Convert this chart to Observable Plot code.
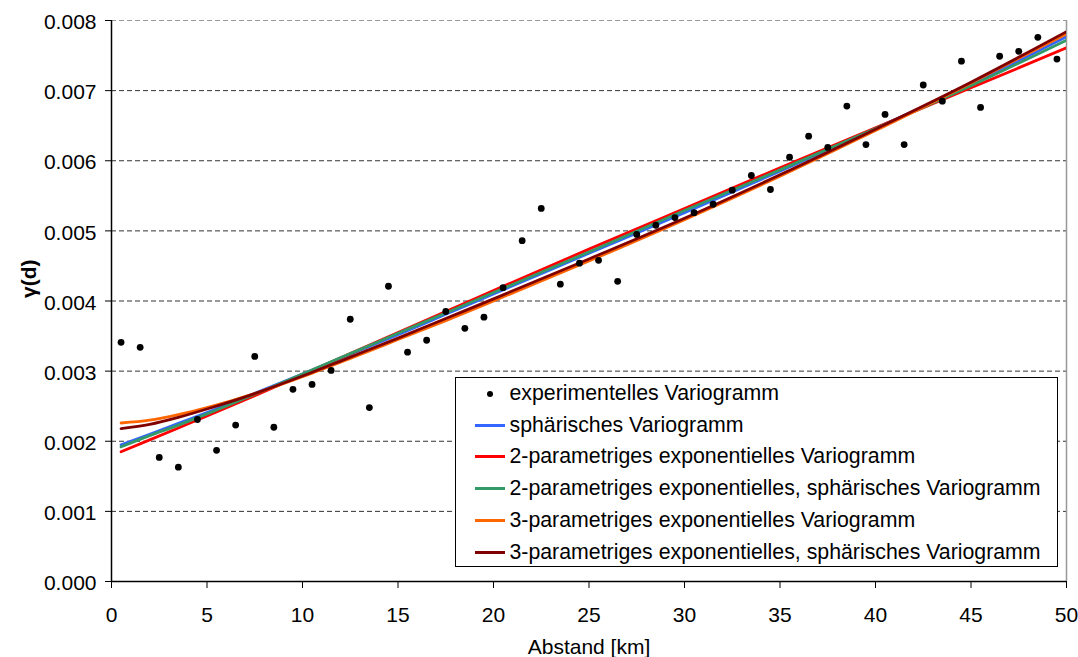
<!DOCTYPE html>
<html>
<head>
<meta charset="utf-8">
<script src="https://cdn.jsdelivr.net/npm/d3@7"></script>
<script src="https://cdn.jsdelivr.net/npm/@observablehq/plot@0.6"></script>
<style>
  html, body { margin: 0; padding: 0; background: #fff; }
  #wrap { position: relative; width: 1078px; height: 657px; font-family: "Liberation Sans", Arial, sans-serif; }
  #legend { position: absolute; left: 455px; top: 377px; width: 603px; height: 190px; box-sizing: border-box;
            border: 1.5px solid #000; background: #fff; font-size: 21.3px; color: #000; }
  .row { position: absolute; left: 0; height: 32px; display: flex; align-items: center; white-space: nowrap; }
  .sample { position: relative; width: 30px; height: 32px; margin-left: 18.5px; margin-right: 5px; }
  .sample .ln { position: absolute; left: 0; right: 0; top: 14.5px; height: 3px; }
  .sample .pt { position: absolute; left: 12px; top: 13px; width: 6.6px; height: 6.6px; border-radius: 50%; background: #000; }
</style>
</head>
<body>
<div id="wrap"></div>
<script>
// Experimental variogram
const distance = [0.5, 1.5, 2.5, 3.5, 4.5, 5.5, 6.5, 7.5, 8.5, 9.5, 10.5, 11.5, 12.5, 13.5, 14.5, 15.5, 16.5, 17.5, 18.5, 19.5,
  20.5, 21.5, 22.5, 23.5, 24.5, 25.5, 26.5, 27.5, 28.5, 29.5, 30.5, 31.5, 32.5, 33.5, 34.5, 35.5, 36.5, 37.5, 38.5, 39.5,
  40.5, 41.5, 42.5, 43.5, 44.5, 45.5, 46.5, 47.5, 48.5, 49.5];
const gammaExperimental = [0.00341, 0.00334, 0.00177, 0.00163, 0.00231, 0.00187, 0.00223, 0.00321, 0.00220, 0.00274,
  0.00281, 0.00301, 0.00374, 0.00248, 0.00421, 0.00327, 0.00344, 0.00385, 0.00361, 0.00377,
  0.00419, 0.00486, 0.00532, 0.00424, 0.00454, 0.00458, 0.00428, 0.00495, 0.00508, 0.00519,
  0.00526, 0.00538, 0.00558, 0.00579, 0.00559, 0.00605, 0.00635, 0.00619, 0.00678, 0.00623,
  0.00666, 0.00623, 0.00708, 0.00685, 0.00742, 0.00676, 0.00749, 0.00756, 0.00776, 0.00745];

// Fitted models
const modelDistance = [0.5, 2, 3.5, 5, 7.5, 10, 12.5, 15, 17.5, 20, 25, 30, 35, 40, 45, 50];
const gammaSpherical = [0.00195, 0.00210, 0.002255, 0.00241, 0.002685, 0.00296, 0.00324, 0.00352, 0.00381, 0.00410, 0.00468, 0.00526, 0.00585, 0.00646, 0.00709, 0.00777];
const gammaExp2 = [0.00185, 0.00202, 0.00219, 0.00236, 0.00265, 0.00295, 0.00325, 0.00355, 0.00385, 0.00415, 0.00474, 0.00532, 0.00590, 0.00647, 0.00704, 0.00761];
const gammaExp2Sph = [0.00192, 0.00208, 0.00223, 0.00239, 0.00267, 0.00296, 0.00325, 0.00354, 0.00383, 0.00412, 0.00470, 0.00529, 0.00587, 0.00646, 0.00707, 0.00772];
const gammaExp3 = [0.00226, 0.00230, 0.00238, 0.00248, 0.00268, 0.00292, 0.00318, 0.00345, 0.00372, 0.00400, 0.00457, 0.00516, 0.00578, 0.00643, 0.00711, 0.00781];
const gammaExp3Sph = [0.00218, 0.00224, 0.00234, 0.00246, 0.00268, 0.00293, 0.00320, 0.00347, 0.00375, 0.00403, 0.00460, 0.00518, 0.00580, 0.00645, 0.00712, 0.00784];

const seriesNames = ["sphärisches Variogramm", "2-parametriges exponentielles Variogramm",
  "2-parametriges exponentielles, sphärisches Variogramm", "3-parametriges exponentielles Variogramm",
  "3-parametriges exponentielles, sphärisches Variogramm"];
const seriesColors = ["#3366ff", "#ff0000", "#339966", "#ff6600", "#800000"];
const seriesValues = [gammaSpherical, gammaExp2, gammaExp2Sph, gammaExp3, gammaExp3Sph];
const pointLabel = "experimentelles Variogramm";

const xTicks = [0, 5, 10, 15, 20, 25, 30, 35, 40, 45, 50];
const yTicks = [0, 0.001, 0.002, 0.003, 0.004, 0.005, 0.006, 0.007, 0.008];

const points = distance.map((d, i) => ({d, g: gammaExperimental[i]}));
const lineMarks = seriesValues.map((vals, k) =>
  Plot.line(modelDistance.map((d, i) => ({d, g: vals[i]})), {
    x: "d", y: "g", stroke: seriesColors[k], strokeWidth: 2.8, curve: "monotone-x", clip: true
  }));

const chart = Plot.plot({
  width: 1078, height: 657,
  marginLeft: 111, marginRight: 12, marginTop: 20, marginBottom: 76,
  style: {fontFamily: "'Liberation Sans', Arial, sans-serif", fontSize: "21px", color: "#000", background: "#fff"},
  x: {domain: [0, 50]},
  y: {domain: [0, 0.008]},
  marks: [
    Plot.gridY(yTicks.filter(v => v > 0 && v < 0.008), {stroke: "#333", strokeOpacity: 1, strokeDasharray: "5,3"}),
    Plot.ruleY([0.008], {stroke: "#999", strokeDasharray: "5,3"}),
    Plot.ruleX([50], {stroke: "#999", strokeWidth: 1.5}),
    ...lineMarks,
    Plot.dot(points, {x: "d", y: "g", r: 3.4, fill: "#000", stroke: "none"}),
    Plot.ruleX([0], {stroke: "#000", strokeWidth: 1.5}),
    Plot.ruleY([0], {stroke: "#000", strokeWidth: 1.5}),
    Plot.axisY({ticks: yTicks, tickSize: 6, tickFormat: () => "", label: null, stroke: "#000"}),
    Plot.text(yTicks, {frameAnchor: "left", y: d => d, text: d => d3.format(".3f")(d), dx: -15, dy: 2, textAnchor: "end", fill: "#000"}),
    Plot.axisX({ticks: xTicks, tickSize: 7, tickPadding: 19, label: null, stroke: "#000", fill: "#000"}),
    Plot.text(["γ(d)"], {frameAnchor: "left", dx: -82, dy: -3, rotate: -90, fontWeight: "bold", fill: "#000"}),
    Plot.text(["Abstand [km]"], {frameAnchor: "bottom", dy: 72, fill: "#000"})
  ]
});

const wrap = document.getElementById("wrap");
wrap.appendChild(chart);

const legend = document.createElement("div");
legend.id = "legend";
const rowTops = [0, 1, 2, 3, 4, 5].map(i => 15.5 + i * 31.7 - 16);
const entries = [{label: pointLabel, point: true}].concat(seriesNames.map((n, k) => ({label: n, color: seriesColors[k]})));
entries.forEach((e, i) => {
  const row = document.createElement("div");
  row.className = "row";
  row.style.top = rowTops[i] + "px";
  const s = document.createElement("div");
  s.className = "sample";
  const m = document.createElement("div");
  if (e.point) { m.className = "pt"; } else { m.className = "ln"; m.style.background = e.color; }
  s.appendChild(m);
  const t = document.createElement("span");
  t.textContent = e.label;
  row.appendChild(s);
  row.appendChild(t);
  legend.appendChild(row);
});
wrap.appendChild(legend);
</script>
</body>
</html>
